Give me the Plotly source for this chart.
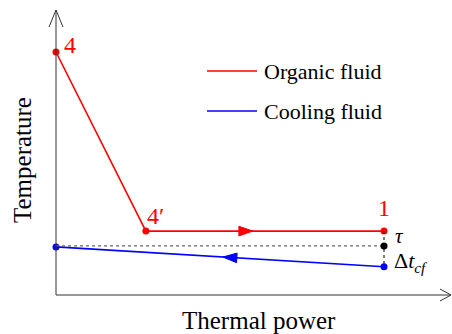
import plotly.graph_objects as go

# Temperature / thermal-power diagram of the condenser (arbitrary units)
organic_x = [0, 27.4, 100]          # points 4, 4', 1
organic_y = [100, 26.3, 26.3]
organic_labels = ["4", "4′", "1"]

cooling_x = [0, 100]                # cooling fluid inlet/outlet
cooling_y = [19.8, 11.6]

pinch_temp = 20.2                   # tau level

legend_names = ["Organic fluid", "Cooling fluid"]
RED = "#ff0000"
BLUE = "#0000ff"
FONT = "'Liberation Serif', 'Times New Roman', serif"

# figure geometry
FIG_W, FIG_H = 452, 334
ML, MR, MT, MB = 40, 0, 0, 20
PLOT_W = FIG_W - ML - MR
PLOT_H = FIG_H - MT - MB
SX = 3.28   # px per x unit
SY = 2.43   # px per y unit
ORIGIN_PX = (56, 295)

x0 = -(ORIGIN_PX[0] - ML) / SX
x1 = (FIG_W - MR - ORIGIN_PX[0]) / SX
y0 = -(FIG_H - MB - ORIGIN_PX[1]) / SY
y1 = (ORIGIN_PX[1] - MT) / SY


def dx(px):
    return px / SX


def dy(px):
    return px / SY


def paper_x(px):
    return (px - ML) / PLOT_W


def paper_y(py):
    return (FIG_H - MB - py) / PLOT_H


fig = go.Figure()

# organic fluid line with state points
fig.add_trace(go.Scatter(
    x=organic_x, y=organic_y, mode="lines+markers",
    line=dict(color=RED, width=1.6),
    marker=dict(color=RED, size=7),
    cliponaxis=False, showlegend=False))

# cooling fluid line
fig.add_trace(go.Scatter(
    x=cooling_x, y=cooling_y, mode="lines+markers",
    line=dict(color=BLUE, width=1.6),
    marker=dict(color=BLUE, size=7),
    cliponaxis=False, showlegend=False))

# dotted pinch level and temperature difference at the outlet
fig.add_trace(go.Scatter(
    x=[organic_x[0], organic_x[-1]], y=[pinch_temp, pinch_temp], mode="lines",
    line=dict(color="#666666", width=1.3, dash="dot"),
    cliponaxis=False, showlegend=False))
fig.add_trace(go.Scatter(
    x=[organic_x[-1], cooling_x[-1]], y=[organic_y[-1], cooling_y[-1]], mode="lines",
    line=dict(color="#333333", width=1.3, dash="dot"),
    cliponaxis=False, showlegend=False))
fig.add_trace(go.Scatter(
    x=[organic_x[-1]], y=[pinch_temp], mode="markers",
    marker=dict(color="black", size=7),
    cliponaxis=False, showlegend=False))


def flow_arrow(xa, ya, xb, yb, frac, color):
    """Filled triangle placed along segment a->b, pointing from a to b."""
    # work in pixel space so the triangle keeps its shape
    pax, pay = xa * SX, ya * SY
    pbx, pby = xb * SX, yb * SY
    L = ((pbx - pax) ** 2 + (pby - pay) ** 2) ** 0.5
    ux, uy = (pbx - pax) / L, (pby - pay) / L
    nx, ny = -uy, ux
    cx, cy = pax + frac * (pbx - pax), pay + frac * (pby - pay)
    length, half = 14, 4.8
    tip = (cx + ux * length / 2, cy + uy * length / 2)
    b1 = (cx - ux * length / 2 + nx * half, cy - uy * length / 2 + ny * half)
    b2 = (cx - ux * length / 2 - nx * half, cy - uy * length / 2 - ny * half)
    pts = [tip, b1, b2, tip]
    fig.add_trace(go.Scatter(
        x=[p[0] / SX for p in pts], y=[p[1] / SY for p in pts],
        mode="lines", fill="toself", fillcolor=color,
        line=dict(color=color, width=1), hoverinfo="skip", showlegend=False))


flow_arrow(organic_x[1], organic_y[1], organic_x[2], organic_y[2], 0.42, RED)
flow_arrow(cooling_x[1], cooling_y[1], cooling_x[0], cooling_y[0], 0.47, BLUE)

shapes = []
AX = "#333333"
# axes with open arrow heads
shapes.append(dict(type="line", xref="x", yref="y", x0=0, y0=0, x1=0, y1=y1 - dy(10),
                   line=dict(color=AX, width=1)))
shapes.append(dict(type="line", xref="x", yref="y", x0=0, y0=0, x1=x1 - dx(1), y1=0,
                   line=dict(color=AX, width=1)))
tipy = y1 - dy(10)
shapes.append(dict(type="path", xref="x", yref="y",
                   path=f"M{-dx(7)},{tipy - dy(17)} L0,{tipy} L{dx(7)},{tipy - dy(17)}",
                   line=dict(color=AX, width=1)))
tipx = x1 - dx(1)
shapes.append(dict(type="path", xref="x", yref="y",
                   path=f"M{tipx - dx(11)},{dy(6)} L{tipx},0 L{tipx - dx(11)},{-dy(6)}",
                   line=dict(color=AX, width=1)))

# legend samples
leg_x0, leg_x1 = dx(207 - 56), dx(257 - 56)
leg_rows = [dy(295 - 71), dy(295 - 111)]
annotations = []
for name, color, yy in zip(legend_names, [RED, BLUE], leg_rows):
    shapes.append(dict(type="line", xref="x", yref="y", x0=leg_x0, x1=leg_x1, y0=yy, y1=yy,
                       line=dict(color=color, width=1.6)))
    annotations.append(dict(x=dx(262 - 56), y=yy, xref="x", yref="y", text=name,
                            showarrow=False, xanchor="left", yanchor="middle",
                            font=dict(family=FONT, size=22, color="black")))

# state point labels
annotations.append(dict(x=organic_x[0], y=organic_y[0], xref="x", yref="y",
                        text=organic_labels[0], showarrow=False, xanchor="left", yanchor="middle",
                        xshift=6, yshift=7, font=dict(family=FONT, size=24, color=RED)))
annotations.append(dict(x=organic_x[1], y=organic_y[1], xref="x", yref="y",
                        text=organic_labels[1], showarrow=False, xanchor="left", yanchor="bottom",
                        xshift=-1, yshift=0, font=dict(family=FONT, size=24, color=RED)))
annotations.append(dict(x=organic_x[2], y=organic_y[2], xref="x", yref="y",
                        text=organic_labels[2], showarrow=False, xanchor="center", yanchor="bottom",
                        xshift=0, yshift=8, font=dict(family=FONT, size=24, color=RED)))
annotations.append(dict(x=organic_x[2], y=pinch_temp, xref="x", yref="y",
                        text="<i>τ</i>", showarrow=False, xanchor="left", yanchor="middle",
                        xshift=9, yshift=10, font=dict(family=FONT, size=21, color="black")))
annotations.append(dict(x=cooling_x[1], y=(pinch_temp + cooling_y[1]) / 2, xref="x", yref="y",
                        text="Δ<i>t</i><sub><i>cf</i></sub>", showarrow=False,
                        xanchor="left", yanchor="middle", xshift=8, yshift=-6,
                        font=dict(family=FONT, size=22, color="black")))

# axis titles
annotations.append(dict(x=paper_x(22), y=paper_y(160), xref="paper", yref="paper",
                        text="Temperature", showarrow=False, textangle=-90,
                        xanchor="center", yanchor="middle",
                        font=dict(family=FONT, size=25, color="black")))
annotations.append(dict(x=paper_x(259), y=paper_y(320), xref="paper", yref="paper",
                        text="Thermal power", showarrow=False,
                        xanchor="center", yanchor="middle",
                        font=dict(family=FONT, size=25, color="black")))

fig.update_layout(
    width=FIG_W, height=FIG_H,
    margin=dict(l=ML, r=MR, t=MT, b=MB),
    paper_bgcolor="white", plot_bgcolor="white",
    font=dict(family=FONT),
    xaxis=dict(range=[x0, x1], visible=False, fixedrange=True),
    yaxis=dict(range=[y0, y1], visible=False, fixedrange=True),
    shapes=shapes, annotations=annotations,
    showlegend=False,
)

fig.write_html("out.html")
